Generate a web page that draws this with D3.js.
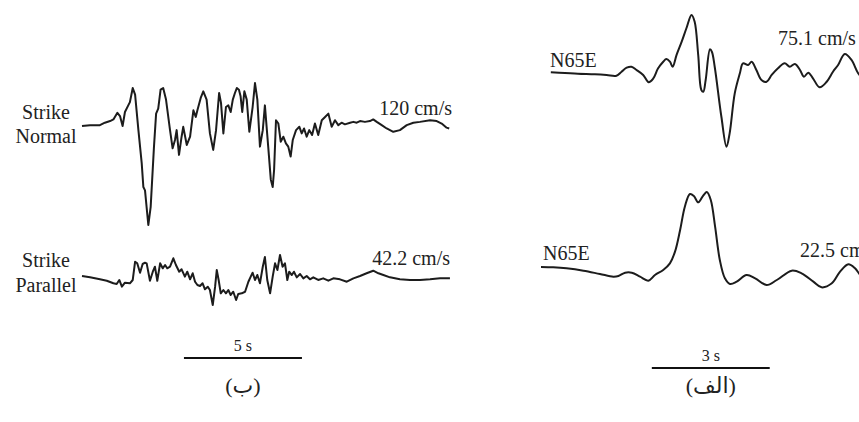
<!DOCTYPE html>
<html>
<head>
<meta charset="utf-8">
<script src="https://cdn.jsdelivr.net/npm/d3@7"></script>
<style>
body { margin: 0; background: #fff; }
svg text { font-family: "Liberation Serif", "Times New Roman", "DejaVu Sans", serif; fill: #222; }
.trace { fill: none; stroke: #1c1c1c; stroke-width: 2; stroke-linejoin: round; }
.bar { stroke: #111; stroke-width: 2; }
</style>
</head>
<body>
<script>
var w = 859;
var h = 422;

// velocity records, [time (s), velocity (cm/s)]
var strikeNormal = [[0,0],[0.34,1],[0.76,1],[0.97,4],[1.19,6],[1.33,8],[1.50,16],[1.61,12],[1.72,0],[1.82,17],[1.96,25],[2.03,29],[2.15,46],[2.25,38],[2.39,-5],[2.53,-45],[2.60,-74],[2.67,-78],[2.81,-120],[2.91,-98],[3.05,-25],[3.14,15],[3.23,21],[3.33,44],[3.44,46],[3.56,32],[3.73,-5],[3.84,-27],[3.94,-17],[4.01,-5],[4.11,-35],[4.22,-13],[4.29,-1],[4.44,-23],[4.58,-13],[4.72,19],[4.82,11],[4.89,19],[5.03,34],[5.14,42],[5.28,32],[5.42,-9],[5.56,-29],[5.68,-5],[5.81,40],[5.89,28],[5.99,-9],[6.10,23],[6.20,25],[6.30,17],[6.39,32],[6.48,40],[6.56,46],[6.65,44],[6.72,36],[6.79,17],[6.88,42],[6.98,32],[7.09,-7],[7.23,23],[7.33,52],[7.43,32],[7.54,-25],[7.66,-5],[7.75,25],[7.89,-25],[8.00,-65],[8.08,-74],[8.14,-53],[8.22,7],[8.32,3],[8.42,-19],[8.53,-13],[8.64,-21],[8.74,-25],[8.84,-37],[8.93,-17],[9.07,-5],[9.21,-1],[9.31,-9],[9.41,-3],[9.52,-13],[9.63,-5],[9.75,-11],[9.87,3],[10.01,-11],[10.16,7],[10.30,11],[10.44,15],[10.58,-1],[10.72,7],[10.86,1],[11.00,4],[11.14,2],[11.36,4],[11.50,5],[11.64,4],[11.78,6],[11.99,5],[12.20,6],[12.34,8],[12.49,5],[12.70,1],[12.91,-3],[13.19,-7],[13.47,-5],[13.76,1],[14.04,4],[14.32,5],[14.75,7],[15.03,6],[15.24,3],[15.45,-2],[15.56,-3]];

var strikeParallel = [[0,1.5],[0.34,-0.5],[0.76,-3.5],[1.05,-5.6],[1.33,-9.5],[1.47,-10.5],[1.58,-4.5],[1.69,-14.6],[1.82,-8.6],[2.03,-9.5],[2.15,-4.5],[2.25,23.1],[2.34,20.6],[2.46,6.5],[2.57,19.6],[2.67,21.5],[2.74,20.6],[2.88,-5.6],[3.00,8.0],[3.09,15.5],[3.19,-5.6],[3.31,20.6],[3.42,13.1],[3.52,18.1],[3.61,13.1],[3.73,15.5],[3.87,28.2],[3.98,18.1],[4.12,8.0],[4.22,11.6],[4.36,0.5],[4.46,8.0],[4.58,-3.5],[4.69,5.6],[4.79,-7.1],[4.89,-12.1],[5.00,-13.6],[5.11,-9.5],[5.21,-18.5],[5.33,-14.6],[5.42,-19.6],[5.54,-42.2],[5.64,-14.6],[5.71,10.5],[5.79,-4.5],[5.88,-24.6],[5.99,-19.6],[6.10,-24.6],[6.20,-19.6],[6.30,-27.1],[6.41,-22.2],[6.53,-34.7],[6.62,-25.6],[6.77,-24.6],[6.91,-22.2],[7.05,-7.1],[7.15,0.5],[7.23,6.5],[7.33,-4.5],[7.43,3.0],[7.54,-9.5],[7.66,15.5],[7.75,30.1],[7.85,-4.5],[7.97,-24.6],[8.08,0.5],[8.18,20.6],[8.28,10.5],[8.39,33.2],[8.50,15.5],[8.60,20.6],[8.70,-4.5],[8.78,8.0],[8.89,3.0],[8.98,8.0],[9.10,-0.5],[9.24,4.5],[9.38,-2.0],[9.52,1.5],[9.66,-3.5],[9.80,-0.5],[10.01,-4.5],[10.22,-2.0],[10.44,-5.6],[10.65,-2.0],[10.93,-3.5],[11.22,-7.1],[11.50,-2.0],[11.78,1.5],[12.06,5.6],[12.34,9.5],[12.56,5.6],[12.77,3.0],[13.05,-0.5],[13.47,-3.5],[13.90,-4.5],[14.32,-4.5],[14.75,-3.5],[15.17,-2.0],[15.59,-2.0]];

var n65eUpper = [[0.25,0.7],[0.61,0],[0.94,-0.7],[1.37,-1.3],[1.67,-2.0],[1.92,-2.8],[2.05,1.3],[2.18,5.4],[2.30,6.4],[2.43,3.1],[2.60,-2.0],[2.74,-9.5],[2.85,-6.1],[2.98,4.8],[3.11,11.5],[3.19,14.3],[3.28,11.5],[3.35,6.4],[3.45,18.4],[3.58,31.9],[3.70,45.6],[3.83,59.2],[3.91,52.3],[4.00,18.4],[4.08,-17.3],[4.13,-19.1],[4.19,-7.1],[4.30,24.2],[4.35,21.4],[4.42,6.4],[4.59,-44.6],[4.72,-75.1],[4.80,-61.5],[4.93,-20.7],[5.06,-0.3],[5.14,9.9],[5.27,8.2],[5.36,11.5],[5.48,3.1],[5.61,-7.1],[5.74,-8.9],[5.87,-2.0],[6.03,4.8],[6.20,9.9],[6.33,6.4],[6.46,9.2],[6.59,3.1],[6.69,-3.8],[6.80,0.3],[6.92,-5.4],[7.09,-14.6],[7.27,-8.9],[7.43,1.3],[7.56,8.2],[7.73,19.4],[7.90,13.3],[8.07,-0.3],[8.20,-6]];

var n65eLower = [[0,0],[0.31,-0.1],[0.65,-0.4],[1.08,-1.1],[1.50,-2.1],[1.84,-2.9],[1.97,-2.7],[2.14,-1.7],[2.31,-1.7],[2.52,-2.9],[2.73,-4.1],[2.90,-2.4],[3.11,-0.9],[3.28,1.1],[3.41,4.6],[3.54,11.1],[3.66,18.1],[3.79,21.9],[3.89,21.3],[4.00,19.4],[4.11,21.1],[4.22,22.5],[4.32,20.1],[4.43,12.1],[4.55,2.1],[4.68,-3.4],[4.81,-5.1],[4.98,-4.4],[5.23,-2.4],[5.45,-3.4],[5.74,-5.4],[6.00,-3.9],[6.38,-1.1],[6.63,-1.9],[6.93,-4.4],[7.14,-6.1],[7.40,-4.9],[7.61,-1.4],[7.82,0.8],[7.99,-0.4],[8.09,-1.9],[8.19,-3.3]];

var stationNames = [["Strike", "Normal"], ["Strike", "Parallel"], ["N65E"], ["N65E"]];
var peakLabels = ["120 cm/s", "42.2 cm/s", "75.1 cm/s", "22.5 cm/s"];
var peakValues = [120, 42.2, 75.1, 22.5];
var barSeconds = [5, 3];
var barLabels = ["5 s", "3 s"];
var panelLabels = ["(ب)", "(الف)"];

var svg = d3.select("body")
    .append("svg")
    .attr("width", w)
    .attr("height", h);

// panel layout: time origin and pixels per second
var panels = [
    { x0: 82, pps: 23.6, barStart: 4.32, barY: 358, barTextY: 351, labelY: 393 },
    { x0: 541, pps: 39.3, barStart: 2.82, barY: 368, barTextY: 361, labelY: 393 }
];
panels.forEach(p => {
    p.x = d3.scaleLinear().domain([0, 1]).range([p.x0, p.x0 + p.pps]);
});

// trace layout: panel, zero line, pixel height of the peak
var traces = [
    { data: strikeNormal, panel: 0, base: 126, amp: 99, nameX: 46, nameY: [119, 143], anchor: "middle", peakX: 452, peakY: 115, peakAnchor: "end" },
    { data: strikeParallel, panel: 0, base: 277, amp: 28, nameX: 46, nameY: [267, 292], anchor: "middle", peakX: 450, peakY: 265, peakAnchor: "end" },
    { data: n65eUpper, panel: 1, base: 73, amp: 73.7, nameX: 550, nameY: [67], anchor: "start", peakX: 778, peakY: 45, peakAnchor: "start" },
    { data: n65eLower, panel: 1, base: 267, amp: 75, nameX: 543, nameY: [260], anchor: "start", peakX: 800, peakY: 257, peakAnchor: "start" }
];

traces.forEach((t, i) => {
    var p = panels[t.panel];
    var y = d3.scaleLinear()
        .domain([-peakValues[i], peakValues[i]])
        .range([t.base + t.amp, t.base - t.amp]);

    var line = d3.line()
        .x(d => p.x(d[0]))
        .y(d => y(d[1]))
        .curve(t.panel == 1 ? d3.curveCatmullRom.alpha(0.5) : d3.curveLinear);

    svg.append("path")
        .attr("class", "trace")
        .attr("d", line(t.data));

    svg.append("text")
        .attr("text-anchor", t.anchor)
        .attr("font-size", 20)
        .selectAll("tspan")
        .data(stationNames[i])
        .enter()
        .append("tspan")
        .attr("x", t.nameX)
        .attr("y", (d, k) => t.nameY[k])
        .text(d => d);

    // right-hand labels run off the page edge, as in the original figure
    svg.append("text")
        .attr("x", t.peakX)
        .attr("y", t.peakY)
        .attr("text-anchor", t.peakAnchor)
        .attr("font-size", 20)
        .text(peakLabels[i]);
});

// time scale bars and panel captions
panels.forEach((p, i) => {
    var x1 = p.x(p.barStart);
    var x2 = p.x(p.barStart + barSeconds[i]);
    svg.append("line")
        .attr("class", "bar")
        .attr("x1", x1).attr("x2", x2)
        .attr("y1", p.barY).attr("y2", p.barY);
    svg.append("text")
        .attr("x", (x1 + x2) / 2)
        .attr("y", p.barTextY)
        .attr("text-anchor", "middle")
        .attr("font-size", 16)
        .text(barLabels[i]);
    svg.append("text")
        .attr("x", (x1 + x2) / 2)
        .attr("y", p.labelY)
        .attr("text-anchor", "middle")
        .attr("font-size", 22)
        .text(panelLabels[i]);
});
</script>
</body>
</html>
